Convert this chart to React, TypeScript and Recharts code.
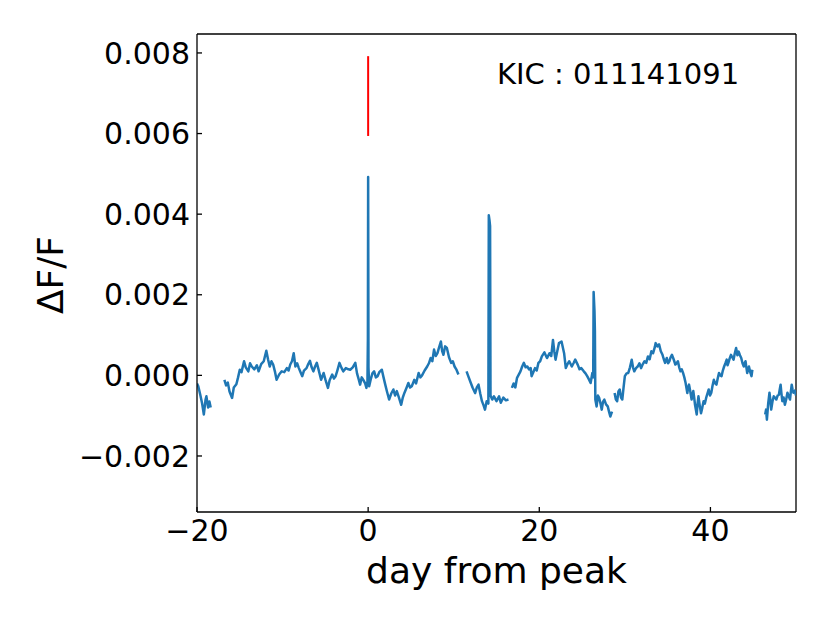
import React from 'react';
import { LineChart, Line, XAxis, YAxis, ReferenceLine, Customized } from 'recharts';

const days: number[] = [
  -20.0, -19.85, -19.6, -19.4, -19.2, -19.0, -18.9, -18.7, -18.55, -18.4, -17.6,
  -16.8, -16.6, -16.4, -16.2, -15.9, -15.7, -15.4, -15.2, -15.0, -14.8, -14.5, -14.3, -14.0, -13.8, -13.6, -13.3, -13.0, -12.8, -12.5, -12.2, -11.9, -11.7, -11.5, -11.3, -11.1, -10.9, -10.7, -10.4, -10.1, -9.8, -9.5, -9.3, -9.1, -8.9, -8.7, -8.5, -8.3, -8.1, -7.9, -7.7, -7.5, -7.2, -7.0, -6.8, -6.6, -6.4, -6.2, -6.0, -5.8, -5.5, -5.2, -5.0, -4.7, -4.5, -4.2, -4.0, -3.8, -3.6, -3.35, -3.1, -2.9, -2.6, -2.3, -2.1, -1.8, -1.5, -1.3, -1.1, -0.94, -0.75, -0.55, -0.35, -0.2, -0.08, -0.03,
  0.0, 0.04, 0.12, 0.3, 0.5, 0.7, 0.9, 1.1, 1.3, 1.6, 1.8, 2.0, 2.2, 2.45, 2.7, 2.95, 3.15, 3.35, 3.6, 3.86, 4.05, 4.25, 4.5, 4.7, 4.9, 5.1, 5.4, 5.6, 5.9, 6.1, 6.3, 6.6, 6.9, 7.1, 7.3, 7.5, 7.7, 7.9, 8.1, 8.3, 8.5, 8.65, 8.8, 9.0, 9.2, 9.45, 9.7, 9.9, 10.1, 10.3, 10.55, 11.0,
  11.5, 11.7, 12.0, 12.2, 12.5, 12.7, 12.9, 13.1, 13.3, 13.5, 13.65, 13.85, 14.05, 14.1, 14.18, 14.25, 14.3, 14.5, 14.7, 15.0, 15.3, 15.5, 15.8, 16.1, 16.4, 16.6,
  16.8, 17.0, 17.2, 17.4, 17.6, 17.8, 18.0, 18.2, 18.4, 18.6, 18.8, 19.0, 19.1, 19.3, 19.5, 19.7, 19.9, 20.1, 20.3, 20.6, 20.9, 21.2, 21.4, 21.6, 21.75, 21.9, 22.1, 22.3, 22.6, 22.9, 23.1, 23.3, 23.5, 23.8, 24.0, 24.2, 24.5, 24.7, 24.9, 25.2, 25.4, 25.6, 25.8, 26.0, 26.2, 26.3, 26.35, 26.45, 26.5, 26.55, 26.7, 26.85, 27.0, 27.15, 27.3, 27.45, 27.6, 27.8, 28.0, 28.15, 28.3, 28.5, 28.65,
  28.8, 28.95, 29.1, 29.25, 29.4, 29.55, 29.7, 29.85, 30.0, 30.2, 30.4, 30.6, 30.8, 30.95, 31.1, 31.3, 31.5, 31.7, 31.9, 32.1, 32.3, 32.5, 32.7, 32.9, 33.1, 33.3, 33.5, 33.6, 33.8, 34.0, 34.2, 34.4, 34.55, 34.7, 34.9, 35.05, 35.2, 35.35, 35.5, 35.7, 35.9, 36.05, 36.2, 36.35, 36.5, 36.65, 36.8, 36.95, 37.1, 37.3, 37.4, 37.5, 37.65, 37.8, 37.9, 38.0, 38.1, 38.2, 38.4, 38.5, 38.6, 38.75, 38.9, 39.05, 39.2, 39.35, 39.5, 39.65, 39.8, 39.95, 40.1, 40.25, 40.4, 40.55, 40.7, 40.85, 41.0, 41.15, 41.3, 41.45, 41.6, 41.75, 41.9, 42.0, 42.1, 42.25, 42.4, 42.55, 42.7, 42.85, 43.0, 43.15, 43.3, 43.45, 43.6, 43.75, 43.9, 44.0, 44.1, 44.2, 44.3, 44.4, 44.5, 44.65, 44.8, 44.9, 45.6,
  46.4, 46.5, 46.6, 46.75, 46.9, 47.0, 47.1, 47.25, 47.4, 47.55, 47.7, 47.85, 48.0, 48.1, 48.2, 48.3, 48.4, 48.55, 48.7, 48.85, 49.0, 49.15, 49.3, 49.4, 49.5, 49.6, 49.7, 49.85, 50.0,
];

const flux: (number | null)[] = [
  -0.0002, -0.00027, -0.0005, -0.0007, -0.00097, -0.0006, -0.00052, -0.0008, -0.00065, -0.0008, null,
  -0.00011, -0.00025, -0.00018, -0.0004, -0.00056, -0.0003, -0.00022, -0.00005, 0.00014, 0.00008, 0.00035, 0.0002, 0.0001, 0.0003, 0.00022, 0.00015, 0.00025, 0.0001, 0.00028, 0.00035, 0.00061, 0.0004, 0.00022, 0.00035, 0.00027, 0.0001, -0.00011, 0.00002, 0.0001, 0.00008, 0.00018, 0.00012, 0.00027, 0.00035, 0.00055, 0.00022, 0.0003, 0.00018, 0.00008, -0.00002, 0.00012, 0.00018, 0.00028, 0.00036, 0.0002, 0.0001, 0.00022, 0.00031, 0.00015, -0.00011, 0.00006, -0.0001, -0.00031, -0.00012, 0.00002, -0.00008, -0.00002, 0.00012, 0.00031, 0.00018, 0.0001, 0.00018, 0.00015, 0.00014, 0.0002, 0.00031, 0.00005, -0.0001, -0.00023, -0.00005, -0.00012, -0.0002, -0.00031, -0.00015, 0.0009,
  0.00492, 0.0002, -0.00027, -0.0001, 0.00005, 0.0001, -0.00005, -0.00002, 0.00008, 0.00014, -0.00005, -0.00023, -0.0004, -0.0006, -0.00045, -0.00035, -0.0005, -0.00039, -0.00055, -0.00073, -0.00055, -0.00043, -0.0003, -0.00019, -0.0003, -0.00027, -0.00011, -0.0002, 0.00006, -0.00005, 0.0, 0.00012, 0.00022, 0.0003, 0.00043, 0.00035, 0.00064, 0.00048, 0.00055, 0.0007, 0.00084, 0.0006, 0.00051, 0.00072, 0.00068, 0.00045, 0.00031, 0.00035, 0.00022, 0.00015, 0.00002, null,
  0.0001, -0.00002, -0.00019, -0.0003, -0.00044, -0.0003, -0.00023, -0.00045, -0.00064, -0.00075, -0.00085, -0.00064, -0.0007, 0.00397, 0.00385, 0.0037, -0.0005, -0.0006, -0.00052, -0.00064, -0.00052, -0.00068, -0.00055, -0.00062, -0.0006, null,
  -0.00031, -0.0002, -0.0003, -0.00006, 0.00002, 0.0001, 0.00022, 0.00031, 0.0002, 0.00022, 0.00015, 0.00018, -0.00002, 0.00008, 0.00018, 0.00012, 0.00031, 0.00035, 0.00047, 0.00057, 0.00043, 0.00055, 0.00048, 0.00088, 0.0006, 0.00039, 0.0006, 0.0008, 0.00084, 0.00055, 0.00018, 0.00028, 0.00035, 0.00022, 0.0003, 0.00039, 0.00026, 0.00015, 0.00018, 0.0001, 0.00005, -0.00002, -0.0001, -0.00019, 0.00006, -0.00005, 0.00207, 0.0016, 0.0011, -0.0006, -0.00077, -0.0005, -0.00056, -0.0007, -0.00085, -0.00065, -0.0006, -0.00072, -0.00077, -0.0009, -0.00102, -0.0009, null,
  -0.00044, -0.0006, -0.00064, -0.0004, -0.00035, -0.00055, -0.0006, -0.0003, -0.00002, 0.00005, 0.00006, 0.0002, 0.00039, 0.0002, 0.0001, 0.00018, 0.00022, 0.0003, 0.00018, 0.00028, 0.00035, 0.00031, 0.00047, 0.0004, 0.0006, 0.00055, 0.0007, 0.0008, 0.00072, 0.00077, 0.0006, 0.00051, 0.0004, 0.00031, 0.00043, 0.0003, 0.00035, 0.00045, 0.00051, 0.0004, 0.00027, 0.0003, 0.00035, 0.0002, 0.0001, 0.00015, 0.00006, -0.00005, -0.00019, -0.00044, -0.0003, -0.00023, -0.0004, -0.0006, -0.0005, -0.00039, -0.00055, -0.00073, -0.00097, -0.0007, -0.00052, -0.00075, -0.00094, -0.0008, -0.00064, -0.0007, -0.00056, -0.00045, -0.00035, -0.0005, -0.00043, -0.00025, -0.00011, -0.0002, -0.00023, -0.00008, 0.00006, 0.0, -0.00002, 0.00012, 0.00022, 0.0003, 0.00039, 0.00025, 0.00031, 0.00042, 0.00051, 0.00045, 0.00039, 0.00055, 0.00068, 0.0005, 0.00059, 0.0005, 0.00043, 0.0003, 0.00022, 0.0003, 0.00035, 0.0002, 0.00006, 0.00015, 0.00022, 0.00008, -0.00002, 0.00014, null,
  -0.00097, -0.00085, -0.0011, -0.0007, -0.00043, -0.0006, -0.00085, -0.00065, -0.00052, -0.00055, -0.0006, -0.0005, -0.00048, -0.00035, -0.00023, -0.00045, -0.00064, -0.00055, -0.00073, -0.0006, -0.00043, -0.00052, -0.0006, -0.0004, -0.00023, -0.00035, -0.00043, -0.00038, -0.0005,
];

const peakMarkDays: number[] = [0, 0];
const peakMarkFlux: number[] = [0.00792, 0.00594];

const xDomain: [number, number] = [-20, 50];
const yDomain: [number, number] = [-0.00339, 0.00847];
const xTicks: number[] = [-20, 0, 20, 40];
const yTicks: number[] = [-0.002, 0, 0.002, 0.004, 0.006, 0.008];
const xLabel = 'day from peak';
const yLabel = 'ΔF/F';
const starLabel = 'KIC : 011141091';

const curveData = days.map((d, i) => ({ x: d, y: flux[i] }));
const markData = peakMarkDays.map((d, i) => ({ x: d, y: peakMarkFlux[i] }));

const FONT = 'DejaVu Sans';
const fmtMinus = (s: string) => s.replace('-', '\u2212');

const Texts = () => (
  <g fontFamily={FONT} fill="#000">
    <text x={497} y={84} fontSize={29} textAnchor="start">{starLabel}</text>
    <text x={496.5} y={583} fontSize={36} textAnchor="middle">{xLabel}</text>
    <text x={63} y={275} fontSize={36} textAnchor="middle" transform="rotate(-90, 63, 275)">{yLabel}</text>
  </g>
);

export default function App() {
  return (
    <div style={{ position: 'absolute', left: 0, top: 0, width: 830, height: 623, background: '#fff' }}>
      <LineChart
        width={830}
        height={623}
        data={curveData}
        margin={{ top: 34, right: 34, bottom: 0, left: 0 }}
        style={{ fontFamily: FONT }}
      >
        <XAxis
          dataKey="x"
          type="number"
          domain={xDomain}
          allowDataOverflow
          ticks={xTicks}
          tickFormatter={(v: number) => fmtMinus(String(v))}
          height={111}
          tickSize={-5}
          tickMargin={13}
          tick={{ fontSize: 30, fill: '#000', fontFamily: FONT }}
          axisLine={{ stroke: '#000', strokeWidth: 1.3 }}
          tickLine={{ stroke: '#000', strokeWidth: 1.3 }}
        />
        <YAxis
          type="number"
          domain={yDomain}
          allowDataOverflow
          ticks={yTicks}
          tickFormatter={(v: number) => fmtMinus(v.toFixed(3))}
          width={197}
          tickSize={-5}
          tickMargin={12}
          tick={{ fontSize: 30, fill: '#000', fontFamily: FONT }}
          axisLine={{ stroke: '#000', strokeWidth: 1.3 }}
          tickLine={{ stroke: '#000', strokeWidth: 1.3 }}
        />
        <ReferenceLine y={yDomain[1]} stroke="#000" strokeWidth={1.3} />
        <ReferenceLine x={xDomain[1]} stroke="#000" strokeWidth={1.3} />
        <Line
          type="linear"
          dataKey="y"
          stroke="#1f77b4"
          strokeWidth={2.5}
          dot={false}
          activeDot={false}
          connectNulls={false}
          isAnimationActive={false}
          strokeLinejoin="round"
        />
        <Line
          type="linear"
          data={markData}
          dataKey="y"
          stroke="#ff0000"
          strokeWidth={2}
          dot={false}
          activeDot={false}
          isAnimationActive={false}
        />
        <Customized component={Texts} />
      </LineChart>
    </div>
  );
}
